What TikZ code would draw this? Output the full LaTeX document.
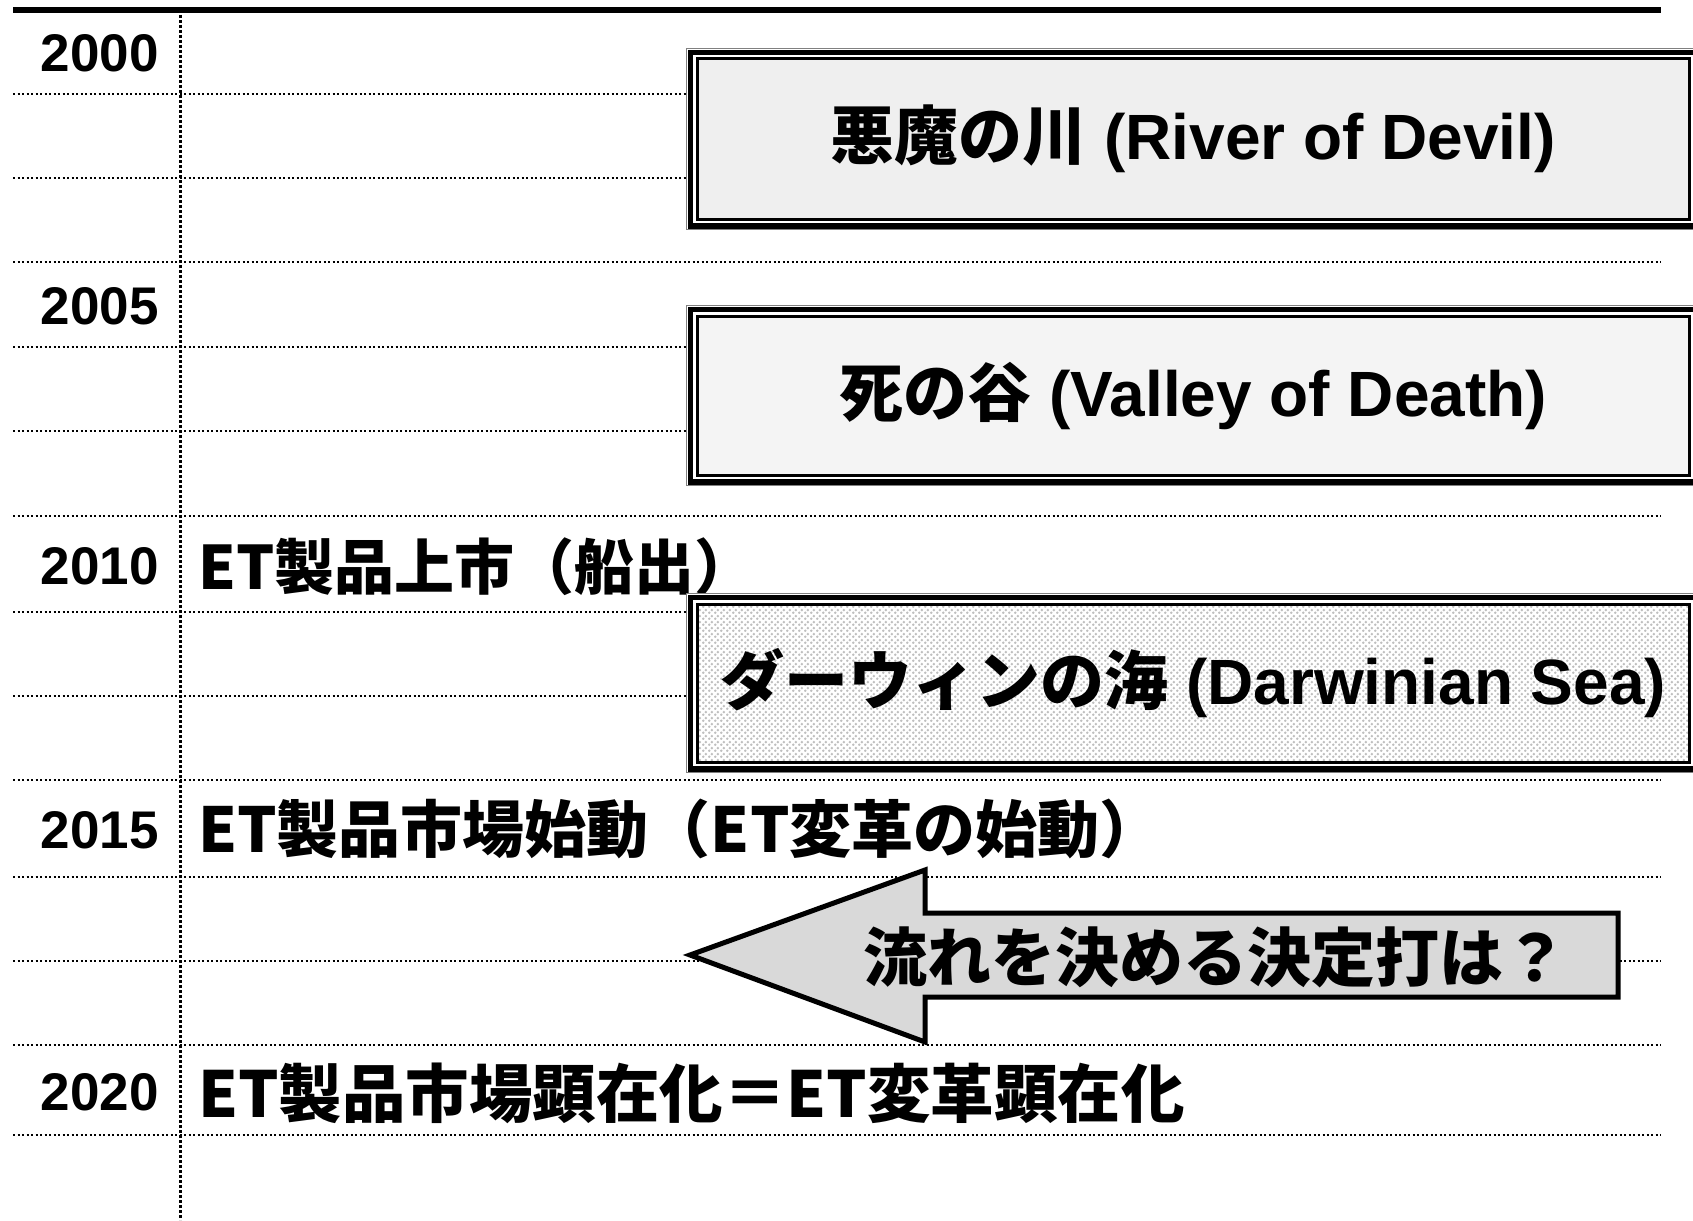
\documentclass[tikz,border=0pt]{standalone}
\usepackage{fontspec}
\setmainfont{Liberation Sans}
\newfontfamily\jp{Noto Sans CJK JP}
\usetikzlibrary{patterns.meta}
\definecolor{boxA}{HTML}{EFEFEF}
\definecolor{boxB}{HTML}{F4F4F4}
\definecolor{arrowfill}{HTML}{D9D9D9}
\tikzdeclarepattern{
  name=stipple,
  type=uncolored,
  bottom left={(0pt,0pt)},
  top right={(6pt,6pt)},
  tile size={(6pt,6pt)},
  code={\fill (1.5pt,1.5pt) circle (1.6pt); \fill (4.5pt,4.5pt) circle (1.6pt);}
}
\newcommand\triframe[1]{%
  \draw[line width=3pt] ([shift={(11,11)}]#1.north west) rectangle ([shift={(-11,-11)}]#1.south east);
  \draw[line width=5.5pt] ([shift={(4.5,4.5)}]#1.north west) rectangle ([shift={(-4.5,-4.5)}]#1.south east);
  \draw[line width=1.2pt, gray] ([shift={(0.6,0.6)}]#1.north west) rectangle ([shift={(-0.6,-0.6)}]#1.south east);
}
\begin{document}
\begin{tikzpicture}[x=1pt,y=-1pt,
  dotline/.style={line width=2.2pt, dash pattern=on 2.2pt off 2.3pt, black},
  year/.style={anchor=east, font=\fontsize{53}{58}\selectfont\bfseries, inner sep=0pt},
  rowtext/.style={anchor=west, inner sep=0pt},
  boxtext/.style={font=\fontsize{64}{70}\selectfont\bfseries, inner sep=0pt},
  boxshape/.style={anchor=north west, inner sep=0pt, minimum width=1014pt},
]
\path[use as bounding box, clip] (0,0) rectangle (1693,1220);
\fill[white] (0,0) rectangle (1693,1220);
% grid
\foreach \yy in {94,178,262,347,431,516,612,696,780,877,961,1045,1135}
  \draw[dotline] (13,\yy) -- (1661,\yy);
\draw[line width=3pt, dash pattern=on 2.6pt off 2.4pt] (180,10) -- (180,1220);
\draw[line width=6pt] (13,10) -- (1661,10);
% years
\node[year] (y2000) at (159,53) {2000};
\node[year] (y2005) at (159,306) {2005};
\node[year] (y2010) at (159,566) {2010};
\node[year] (y2015) at (159,830) {2015};
\node[year] (y2020) at (159,1092) {2020};
% row texts
\node[rowtext, font=\jp\fontsize{60}{66}\selectfont\bfseries] (r2010) at (198,567) {ET製品上市（船出）};
\node[rowtext, font=\jp\fontsize{62}{68}\selectfont\bfseries] (r2015) at (198,829) {ET製品市場始動（ET変革の始動）};
\node[rowtext, font=\jp\fontsize{63.5}{70}\selectfont\bfseries] (r2020) at (198,1093) {ET製品市場顕在化＝ET変革顕在化};
% boxes
\node[boxshape, minimum height=182pt, fill=white] (riv) at (686,48) {};
\fill[boxA] ([shift={(11,11)}]riv.north west) rectangle ([shift={(-11,-11)}]riv.south east);
\triframe{riv}
\node[boxtext] (rivt) at (riv.center) {{\jp 悪魔の川} (River of Devil)};

\node[boxshape, minimum height=181pt, fill=white] (val) at (686,305) {};
\fill[boxB] ([shift={(11,11)}]val.north west) rectangle ([shift={(-11,-11)}]val.south east);
\triframe{val}
\node[boxtext] (valt) at (val.center) {{\jp 死の谷} (Valley of Death)};

\node[boxshape, minimum height=180pt, fill=white] (dar) at (686,593) {};
\fill[pattern=stipple, pattern color=gray!50] ([shift={(11,11)}]dar.north west) rectangle ([shift={(-11,-11)}]dar.south east);
\triframe{dar}
\node[boxtext] (dart) at (dar.center) {{\jp ダーウィンの海} (Darwinian Sea)};
% arrow
\filldraw[fill=arrowfill, line width=5pt, line join=miter]
  (690,955) -- (925,870) -- (925,913) -- (1618,913) -- (1618,997) -- (925,997) -- (925,1042) -- cycle;
\node[font=\jp\fontsize{64}{70}\selectfont\bfseries, inner sep=0pt] (arrt) at (1215,957) {流れを決める決定打は？};
\end{tikzpicture}
\end{document}
